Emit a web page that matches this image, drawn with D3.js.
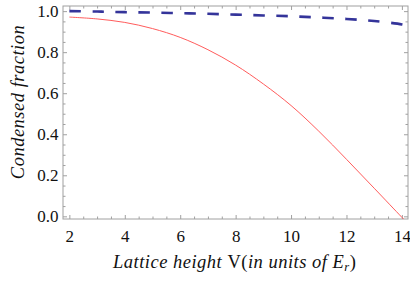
<!DOCTYPE html>
<html>
<head>
<meta charset="utf-8">
<script src="https://cdn.jsdelivr.net/npm/d3@7"></script>
<style>
  html, body { margin: 0; padding: 0; background: #fff; }
  svg { display: block; }
  .axis path, .axis line { stroke: #a0a0a0; }
</style>
</head>
<body>
<svg id="chart" width="410" height="282"></svg>
<script>
// lattice height V (in units of E_r)
const latticeV = [2, 3, 4, 5, 6, 7, 8, 9, 10, 11, 12, 13, 14, 14.2];
const redFraction = [0.971, 0.962, 0.945, 0.915, 0.872, 0.812, 0.737, 0.645, 0.54, 0.415, 0.278, 0.137, -0.005, -0.033];
const blueFraction = [1.0, 0.998, 0.995, 0.993, 0.99, 0.987, 0.983, 0.979, 0.975, 0.969, 0.962, 0.952, 0.935, 0.928];
const xTicks = [2, 4, 6, 8, 10, 12, 14];
const yTicks = [0, 0.2, 0.4, 0.6, 0.8, 1.0];

const SERIF = 'Liberation Serif';
const frame = { left: 63, right: 408, top: 6, bottom: 219 };

const svg = d3.select('#chart');

const x = d3.scaleLinear().domain([1.77, 14.22]).range([frame.left, frame.right]);
const y = d3.scaleLinear().domain([-0.013, 1.025]).range([frame.bottom, frame.top]);

const xMinor = d3.range(2, 14.01, 0.5).filter((v) => v % 2 !== 0);
const yMinor = d3.range(0, 1.01, 0.05).map((v) => +v.toFixed(2)).filter((v) => Math.round(v * 100) % 20 !== 0);

function addAxis(axis, transform) {
  const g = svg.append('g').attr('class', 'axis').attr('transform', transform).call(axis);
  g.select('.domain').remove();
  g.attr('font-family', SERIF).attr('font-size', 17);
  g.selectAll('text').attr('fill', '#111');
  return g;
}

// major + minor ticks, pointing inward, on all four sides
addAxis(d3.axisBottom(x).tickValues(xTicks).tickSize(-4).tickPadding(11).tickFormat(d3.format('d')), `translate(0,${frame.bottom})`);
addAxis(d3.axisBottom(x).tickValues(xMinor).tickSize(-2.5).tickFormat(''), `translate(0,${frame.bottom})`);
addAxis(d3.axisTop(x).tickValues(xTicks).tickSize(-4).tickFormat(''), `translate(0,${frame.top})`);
addAxis(d3.axisTop(x).tickValues(xMinor).tickSize(-2.5).tickFormat(''), `translate(0,${frame.top})`);
addAxis(d3.axisLeft(y).tickValues(yTicks).tickSize(-4).tickPadding(4.5).tickFormat(d3.format('.1f')), `translate(${frame.left},0)`);
addAxis(d3.axisLeft(y).tickValues(yMinor).tickSize(-2.5).tickFormat(''), `translate(${frame.left},0)`);
addAxis(d3.axisRight(y).tickValues(yTicks).tickSize(-4).tickFormat(''), `translate(${frame.right},0)`);
addAxis(d3.axisRight(y).tickValues(yMinor).tickSize(-2.5).tickFormat(''), `translate(${frame.right},0)`);

svg.append('rect')
  .attr('x', frame.left).attr('y', frame.top)
  .attr('width', frame.right - frame.left).attr('height', frame.bottom - frame.top)
  .attr('fill', 'none').attr('stroke', '#a0a0a0').attr('stroke-width', 1);

svg.append('clipPath').attr('id', 'plot-clip')
  .append('rect').attr('x', frame.left).attr('y', frame.top)
  .attr('width', frame.right - frame.left).attr('height', frame.bottom - frame.top);

const line = d3.line().curve(d3.curveCatmullRom);
const plot = svg.append('g').attr('clip-path', 'url(#plot-clip)');

plot.append('path')
  .attr('d', line(latticeV.map((v, i) => [x(v), y(redFraction[i])])))
  .attr('fill', 'none').attr('stroke', '#ff5c5c').attr('stroke-width', 1);

plot.append('path')
  .attr('d', line(latticeV.map((v, i) => [x(v), y(blueFraction[i])])))
  .attr('fill', 'none').attr('stroke', '#34349a').attr('stroke-width', 2.6)
  .attr('stroke-dasharray', '11.5,11.5');

// axis titles
const xTitle = svg.append('text')
  .attr('x', 113).attr('y', 268)
  .attr('font-family', SERIF).attr('font-size', 18.5).attr('letter-spacing', 0.5).attr('fill', '#111');
xTitle.append('tspan').attr('font-style', 'italic').text('Lattice height ');
xTitle.append('tspan').text('V(');
xTitle.append('tspan').attr('font-style', 'italic').text('in units of  E');
xTitle.append('tspan').attr('font-style', 'italic').attr('font-size', 12.5).attr('dy', 3).text('r');
xTitle.append('tspan').attr('dy', -3).text(')');

svg.append('text')
  .attr('transform', 'translate(24,102) rotate(-90)')
  .attr('text-anchor', 'middle')
  .attr('font-family', SERIF).attr('font-size', 18.5).attr('letter-spacing', 0.5)
  .attr('font-style', 'italic').attr('fill', '#111')
  .text('Condensed  fraction');
</script>
</body>
</html>
